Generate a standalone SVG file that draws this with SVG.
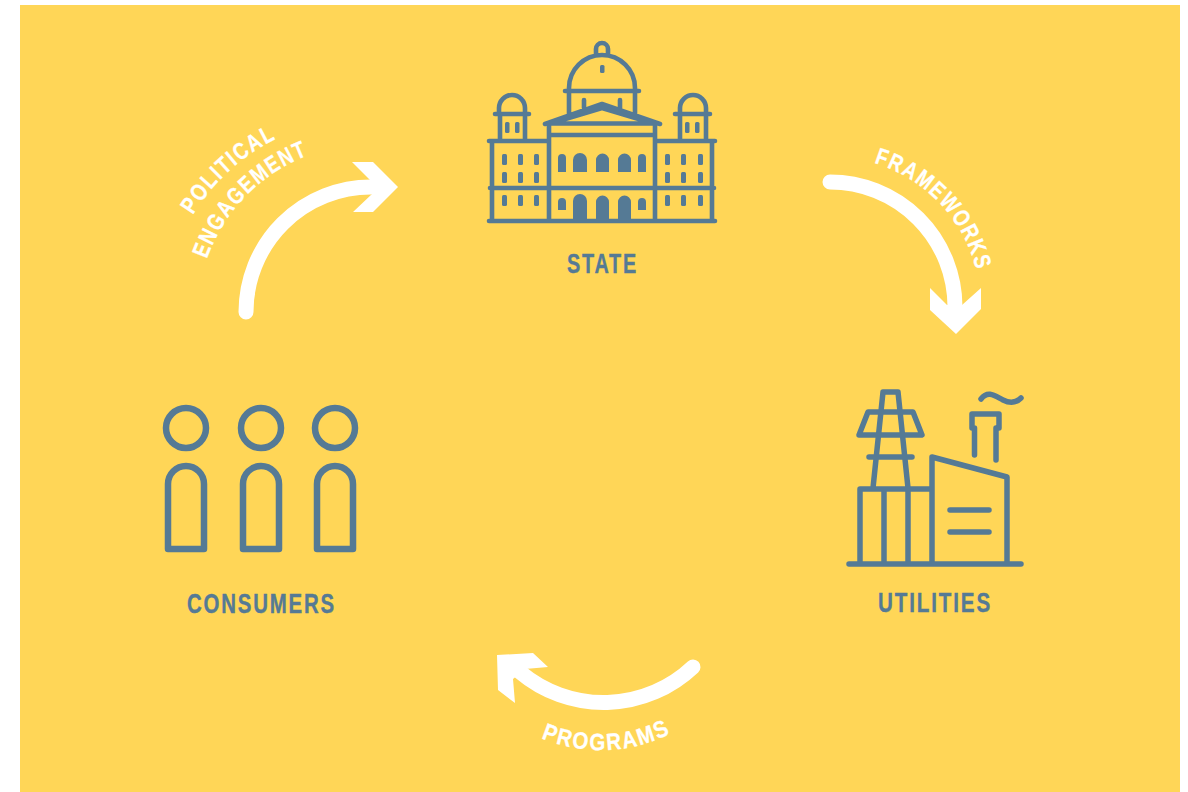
<svg xmlns="http://www.w3.org/2000/svg" width="1188" height="792" viewBox="0 0 1188 792">
<style>
.i{fill:none;stroke:#557a95;stroke-width:5.500;stroke-linecap:round;stroke-linejoin:round}
.t{stroke-width:4.600}
.f{fill:#557a95}
.l{font-family:"Liberation Sans Narrow","Liberation Sans",sans-serif;font-weight:700;fill:#557a95;stroke:#557a95;stroke-width:.4px;font-size:28px;letter-spacing:2.500px}
.c{font-family:"Liberation Sans Narrow","Liberation Sans",sans-serif;font-weight:700;fill:#fff;stroke:#fff;stroke-width:.3px;font-size:23.500px;letter-spacing:2px}
.a{fill:none;stroke:#fff;stroke-width:15;stroke-linecap:round}
.h{fill:#fff}
</style>
<defs>
<path id="p1" d="M193 215A200 200 0 0 1 278 138"/>
<path id="p2" d="M207 259A172 172 0 0 1 312 154"/>
<path id="p3" d="M874 163A150 150 0 0 1 980 290"/>
<path id="p4" d="M541 738A153 153 0 0 0 675 731"/>
</defs>
<rect x="0" y="0" width="1188" height="792" fill="#fff"/>
<rect x="20" y="5" width="1160" height="787" fill="#ffd657"/>
<g id="state">
<path class="i t" d="M596 54V49a6 6 0 0 1 12 0V54M569 91V88a33 33 0 0 1 66 0V91M565 91H639M569 91V114M635 91V114M584 100V108M620 100V108M545 124L602 104L660 124M547 123.500H658M562 120L602 108L642 120M549 124V221M655 124V221M549 135H655M549 188H655M490 188H549M655 188H714M489 141H549M655 141H715M492 141V221M712 141V221M489 221H715M500 114V141M525 114V141M495 114H529M499 114V108a13 13 0 0 1 26 0V114M680 114V141M706 114V141M675 114H710M680 114V108a13 13 0 0 1 26 0V114"/>
<g class="f">
<rect x="600" y="65" width="4.500" height="8" rx="1.500"/>
<rect x="505" y="122" width="4.500" height="11" rx="1.500"/><rect x="515" y="122" width="4.500" height="11" rx="1.500"/>
<rect x="685" y="122" width="4.500" height="11" rx="1.500"/><rect x="695" y="122" width="4.500" height="11" rx="1.500"/>
<rect x="502" y="154" width="5" height="11" rx="1.500"/><rect x="518" y="154" width="5" height="11" rx="1.500"/><rect x="534" y="154" width="5" height="11" rx="1.500"/>
<rect x="502" y="172" width="5" height="11" rx="1.500"/><rect x="518" y="172" width="5" height="11" rx="1.500"/><rect x="534" y="172" width="5" height="11" rx="1.500"/>
<rect x="502" y="195" width="5" height="11" rx="1.500"/><rect x="518" y="195" width="5" height="11" rx="1.500"/><rect x="534" y="195" width="5" height="11" rx="1.500"/>
<rect x="665" y="154" width="5" height="11" rx="1.500"/><rect x="681" y="154" width="5" height="11" rx="1.500"/><rect x="698" y="154" width="5" height="11" rx="1.500"/>
<rect x="665" y="172" width="5" height="11" rx="1.500"/><rect x="681" y="172" width="5" height="11" rx="1.500"/><rect x="698" y="172" width="5" height="11" rx="1.500"/>
<rect x="665" y="195" width="5" height="11" rx="1.500"/><rect x="681" y="195" width="5" height="11" rx="1.500"/><rect x="698" y="195" width="5" height="11" rx="1.500"/>
<path d="M558 172V158a4 4 0 0 1 8 0V172zM573 172V160a7 7 0 0 1 14 0V172zM596 172V160a6.500 6.500 0 0 1 13 0V172zM618 172V160a6.500 6.500 0 0 1 13 0V172zM638 172V158a4 4 0 0 1 8 0V172z"/>
<path d="M558 210V202a4 4 0 0 1 8 0V210zM638 210V202a4 4 0 0 1 8 0V210zM573 220V201a7 7 0 0 1 14 0V220zM596 220V202a6.500 6.500 0 0 1 13 0V220zM618 220V202a6.500 6.500 0 0 1 13 0V220z"/>
</g>
<text class="l" x="567" y="273" textLength="71" lengthAdjust="spacingAndGlyphs">STATE</text>
</g>
<g id="utilities">
<path class="i" d="M849 564H1021M860 564V489H932M884 489V564M908 489V564M932 564V457L1007 477V564M950 510H989M950 532H989M974.500 428V455M996 428V460M972 428V414H999V428M981 399C988 390 995 396 1003 400C1011 404 1017 402 1021 398M883 392H898M883 392L873 488M898 392L908 488M868 412H913L922 435H859ZM869 457H912"/>
<text class="l" x="878" y="612" textLength="114" lengthAdjust="spacingAndGlyphs">UTILITIES</text>
</g>
<g id="consumers">
<g fill="none" stroke="#557a95" stroke-width="6.500" stroke-linejoin="round">
<circle cx="186" cy="428" r="20"/><circle cx="261" cy="428" r="20"/><circle cx="335" cy="428" r="20"/>
<path d="M168 549V484a18 18 0 0 1 36 0V549Z"/>
<path d="M243 549V484a18 18 0 0 1 36 0V549Z"/>
<path d="M317 549V484a18 18 0 0 1 36 0V549Z"/>
</g>
<text class="l" x="187" y="613" textLength="149" lengthAdjust="spacingAndGlyphs">CONSUMERS</text>
</g>
<g id="connectors">
<path class="a" d="M246 312A125 125 0 0 1 371 187"/>
<polygon class="h" points="352,162 373,162 398,187 373,212 353,212 372,194 370,180"/>
<path class="a" d="M830 182A125 125 0 0 1 955 307"/>
<polygon class="h" points="930,288 947,305 962,305 981,288 981,309 956,334 930,310"/>
<path class="a" d="M693 667A130 130 0 0 1 520 672"/>
<polygon class="h" points="497,655 533,653 548,667 525,669 513,679 515,703 498,690"/>
</g>
<g id="labels">
<text class="c"><textPath href="#p1" textLength="115" lengthAdjust="spacingAndGlyphs">POLITICAL</textPath></text>
<text class="c"><textPath href="#p2" textLength="150" lengthAdjust="spacingAndGlyphs">ENGAGEMENT</textPath></text>
<text class="c"><textPath href="#p3" textLength="156" lengthAdjust="spacingAndGlyphs">FRAMEWORKS</textPath></text>
<text class="c"><textPath href="#p4" textLength="135" lengthAdjust="spacingAndGlyphs">PROGRAMS</textPath></text>
</g>
</svg>
